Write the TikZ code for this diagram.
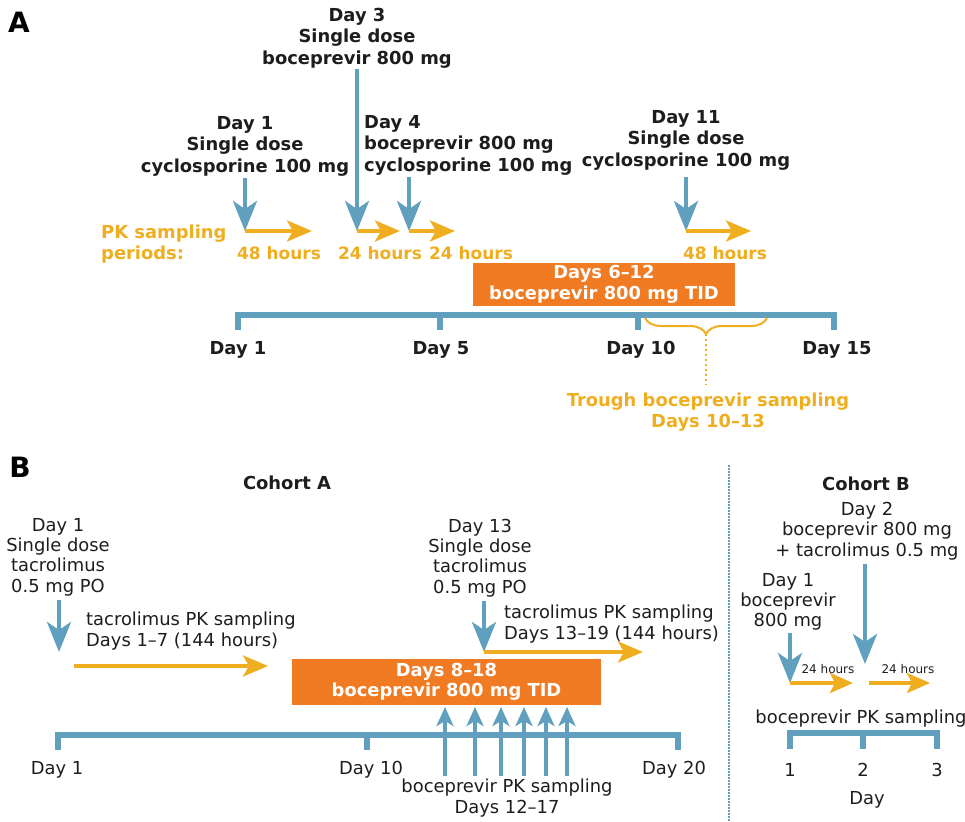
\documentclass[tikz,border=0pt]{standalone}
\usepackage{fontspec}
\setmainfont{DejaVu Sans}
\usetikzlibrary{arrows.meta}
\usetikzlibrary{decorations.pathreplacing}

\definecolor{tlblue}{RGB}{96,160,190}
\definecolor{pkorange}{RGB}{239,174,32}
\definecolor{boxorange}{RGB}{241,123,34}
\definecolor{txtgray}{RGB}{30,28,29}

\begin{document}
\begin{tikzpicture}[x=1pt, y=-1pt,
  boldtxt/.style={font=\fontsize{17.9}{21.5}\selectfont\bfseries, text=txtgray, align=center, inner sep=1pt},
  plaintxt/.style={font=\fontsize{17.9}{20.3}\selectfont, text=txtgray, align=center, inner sep=1pt},
  pktxt/.style={boldtxt, text=pkorange},
  hourtxt/.style={pktxt, font=\fontsize{17}{20}\selectfont\bfseries},
  smalltxt/.style={font=\fontsize{12}{14}\selectfont, text=txtgray, inner sep=1pt},
  panel/.style={font=\fontsize{28}{28}\selectfont\bfseries, text=black},
  regimen/.style={fill=boxorange, text=white, font=\fontsize{17.9}{20.5}\selectfont\bfseries, align=center, inner sep=0pt},
  dose/.style={draw=tlblue, line width=4.4pt, -{Stealth[length=30pt, width=24pt, inset=8pt]}},
  sample/.style={draw=tlblue, line width=3.5pt, -{Stealth[length=19pt, width=17pt, inset=5pt]}},
  pk/.style={draw=pkorange, line width=4pt, -{Stealth[length=25pt, width=21pt, inset=6pt]}},
  pksmall/.style={draw=pkorange, line width=4pt, -{Stealth[length=23pt, width=20pt, inset=5pt]}},
  timeline/.style={draw=tlblue, line width=6pt},
]
\useasboundingbox (0,0) rectangle (965,821);

% panel A
\node[panel] (A) at (19,22) {A};

\node[boldtxt] (d3txt) at (357,38) {Day 3\\Single dose\\boceprevir 800 mg};
\node[boldtxt] (d1txt) at (245,146) {Day 1\\Single dose\\cyclosporine 100 mg};
\node[boldtxt, align=left, anchor=west] (d4txt) at (363,145) {Day 4\\boceprevir 800 mg\\cyclosporine 100 mg};
\node[boldtxt] (d11txt) at (686,140) {Day 11\\Single dose\\cyclosporine 100 mg};

\coordinate (pA1) at (245,231);
\coordinate (pA2) at (357,231);
\coordinate (pA3) at (409,231);
\coordinate (pA4) at (686,231);
\coordinate (eA1) at (312,231);
\coordinate (eA2) at (400,231);
\coordinate (eA3) at (455,231);
\coordinate (eA4) at (751,231);

\draw[dose] (d3txt) -- (pA2);
\draw[dose, shorten <=1pt] (d1txt.south) -- (pA1);
\draw[dose, shorten <=1pt] (d4txt.south -| pA3) -- (pA3);
\draw[dose, shorten <=6pt] (d11txt) -- (pA4);

\draw[pk] (pA1) -- (eA1);
\draw[pk] (pA2) -- (eA2);
\draw[pk] (pA3) -- (eA3);
\draw[pk] (pA4) -- (eA4);

\node[pktxt, align=left, anchor=west] (pklbl) at (100,244) {PK sampling\\periods:};
\node[hourtxt] (h1) at (279,253) {48 hours};
\node[hourtxt] (h2) at (380,253) {24 hours};
\node[hourtxt] (h3) at (471,253) {24 hours};
\node[hourtxt] (h4) at (725,253) {48 hours};

\node[regimen, minimum width=262pt, minimum height=43pt] (bocA) at (604,284.5) {Days 6--12\\boceprevir 800 mg TID};

\coordinate (tA1) at (238,315);
\coordinate (tA5) at (440,315);
\coordinate (tA10) at (638,315);
\coordinate (tA15) at (834,315);
\draw[timeline] (tA1) ++(0,15) -- (tA1) -- (tA15) -- ++(0,15);
\draw[timeline] (tA5) -- ++(0,15);
\draw[timeline] (tA10) -- ++(0,15);

\node[boldtxt] (lA1) at (238,350) {Day 1};
\node[boldtxt] (lA5) at (441,350) {Day 5};
\node[boldtxt] (lA10) at (641,350) {Day 10};
\node[boldtxt] (lA15) at (837,350) {Day 15};

\coordinate (brR) at (767,318);
\coordinate (brL) at (645,318);
\coordinate (brTip) at (706,334);
\draw[pkorange, line width=2pt, decorate, decoration={brace, amplitude=16pt}] (brR) -- (brL);
\node[pktxt] (trough) at (708,412) {Trough boceprevir sampling\\Days 10--13};
\draw[pkorange, line width=2.2pt, dash pattern=on 2pt off 3pt, shorten >=6pt] (brTip) -- (trough.north -| brTip);

% panel B, cohort A
\node[panel] (B) at (20,467) {B};
\node[boldtxt] (cohA) at (287,483) {Cohort A};

\node[plaintxt] (d1Btxt) at (58,557) {Day 1\\Single dose\\tacrolimus\\0.5 mg PO};
\node[plaintxt] (d13txt) at (480,558) {Day 13\\Single dose\\tacrolimus\\0.5 mg PO};
\node[plaintxt, align=left, anchor=west] (tpk1) at (85,631) {tacrolimus PK sampling\\Days 1--7 (144 hours)};
\node[plaintxt, align=left, anchor=west] (tpk2) at (503,624) {tacrolimus PK sampling\\Days 13--19 (144 hours)};

\coordinate (pB1) at (59,652);
\coordinate (pB2) at (484,652);
\coordinate (sB1) at (74,666);
\coordinate (eB1) at (268,666);
\coordinate (eB2) at (643,652);

\draw[dose, shorten <=3pt] (d1Btxt.south -| pB1) -- (pB1);
\draw[dose, shorten <=3pt] (d13txt.south -| pB2) -- (pB2);
\draw[pk] (sB1) -- (eB1);
\draw[pk] (pB2) -- (eB2);

\node[regimen, minimum width=309pt, minimum height=46pt] (bocB) at (446.5,682) {Days 8--18\\boceprevir 800 mg TID};

\coordinate (tB1) at (58,735);
\coordinate (tB10) at (367,735);
\coordinate (tB20) at (678,735);
\draw[timeline] (tB1) ++(0,15) -- (tB1) -- (tB20) -- ++(0,15);
\draw[timeline] (tB10) -- ++(0,15);

\node[plaintxt] (lB1) at (57,770) {Day 1};
\node[plaintxt] (lB10) at (371,770) {Day 10};
\node[plaintxt] (lB20) at (674,770) {Day 20};
\node[plaintxt] (bpkB) at (507,798) {boceprevir PK sampling\\Days 12--17};

\coordinate (up1) at (445,707);
\coordinate (up2) at (475,707);
\coordinate (up3) at (501,707);
\coordinate (up4) at (524,707);
\coordinate (up5) at (546,707);
\coordinate (up6) at (567,707);
\draw[sample, shorten <=2pt] (bpkB.north -| up1) -- (up1);
\draw[sample, shorten <=2pt] (bpkB.north -| up2) -- (up2);
\draw[sample, shorten <=2pt] (bpkB.north -| up3) -- (up3);
\draw[sample, shorten <=2pt] (bpkB.north -| up4) -- (up4);
\draw[sample, shorten <=2pt] (bpkB.north -| up5) -- (up5);
\draw[sample, shorten <=2pt] (bpkB.north -| up6) -- (up6);

% separator
\coordinate (sepT) at (729,465);
\coordinate (sepB) at (729,821);
\draw[tlblue, line width=2pt, dash pattern=on 1.5pt off 1.5pt] (sepT) -- (sepB);

% panel B, cohort B
\node[boldtxt] (cohB) at (866,484) {Cohort B};
\node[plaintxt] (c2txt) at (867,531) {Day 2\\boceprevir 800 mg\\+ tacrolimus 0.5 mg};
\node[plaintxt] (c1txt) at (788,602) {Day 1\\boceprevir\\800 mg};

\coordinate (pC1) at (790,683);
\coordinate (pC2) at (865,664);
\coordinate (eC1) at (853,683);
\coordinate (sC2) at (869,683);
\coordinate (eC2) at (930,683);

\draw[dose, shorten <=3pt] (c2txt.south -| pC2) -- (pC2);
\draw[dose, shorten <=1pt] (c1txt.south -| pC1) -- (pC1);
\draw[pksmall] (pC1) -- (eC1);
\draw[pksmall] (sC2) -- (eC2);

\node[smalltxt] (hC1) at (828,669) {24 hours};
\node[smalltxt] (hC2) at (908,669) {24 hours};
\node[plaintxt] (bpkC) at (861,719) {boceprevir PK sampling};

\coordinate (tC1) at (790,733);
\coordinate (tC2) at (863,733);
\coordinate (tC3) at (937,733);
\draw[timeline] (tC1) ++(0,16) -- (tC1) -- (tC3) -- ++(0,16);
\draw[timeline] (tC2) -- ++(0,16);

\node[plaintxt] (lC1) at (790,770) {1};
\node[plaintxt] (lC2) at (863,770) {2};
\node[plaintxt] (lC3) at (937,770) {3};
\node[plaintxt] (dayC) at (867,800) {Day};
\end{tikzpicture}
\end{document}
